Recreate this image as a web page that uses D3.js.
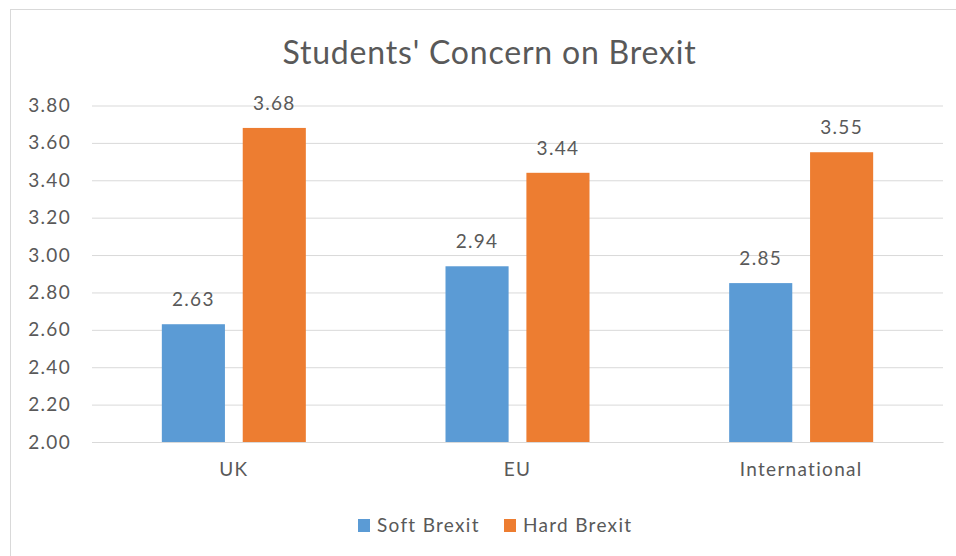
<!DOCTYPE html>
<html>
<head>
<meta charset="utf-8">
<script src="https://cdn.jsdelivr.net/npm/d3@7"></script>
<style>
  body { margin: 0; background: #fff; }
  text { font-family: Lato, "Open Sans", sans-serif; fill: #595959; }
</style>
</head>
<body>
<div id="chart"></div>
<script>
// --------------------------------------
//  Data
// --------------------------------------
const categories = ["UK", "EU", "International"];
const seriesNames = ["Soft Brexit", "Hard Brexit"];
const softBrexit = [2.63, 2.94, 2.85];
const hardBrexit = [3.68, 3.44, 3.55];
const yTicks = [2.0, 2.2, 2.4, 2.6, 2.8, 3.0, 3.2, 3.4, 3.6, 3.8];
const colors = ["#5B9BD5", "#ED7D31"];

const data = categories.map((c, i) => ({
  category: c,
  values: [
    {key: seriesNames[0], value: softBrexit[i]},
    {key: seriesNames[1], value: hardBrexit[i]}
  ]
}));

// --------------------------------------
//  Canvas
// --------------------------------------
const width = 956;
const height = 556;
const plot = {left: 92, right: 943, top: 105.5, bottom: 442};
const labelSize = 19;
const labelSpacing = "1.3px";

const svg = d3.select("#chart")
  .append("svg")
    .attr("width", width)
    .attr("height", height);

// chart area border
svg.append("rect")
    .attr("x", 10.5)
    .attr("y", 9.5)
    .attr("width", 1000)
    .attr("height", 600)
    .attr("fill", "none")
    .attr("stroke", "#d9d9d9")
    .attr("stroke-width", 1);

// --------------------------------------
//  Scales
// --------------------------------------
const x0 = d3.scaleBand()
    .domain(categories)
    .range([plot.left, plot.right]);

const groupW = 144;
const x1 = d3.scaleBand()
    .domain(seriesNames)
    .range([x0.bandwidth() / 2 - groupW / 2, x0.bandwidth() / 2 + groupW / 2])
    .paddingInner(0.22);

const y = d3.scaleLinear()
    .domain([2, 3.8])
    .range([plot.bottom, plot.top]);

const color = d3.scaleOrdinal()
    .domain(seriesNames)
    .range(colors);

// --------------------------------------
//  Gridlines and axes
// --------------------------------------
svg.append("g")
    .attr("transform", `translate(${plot.left}, 0)`)
    .call(d3.axisLeft(y)
      .tickValues(yTicks)
      .tickSize(-(plot.right - plot.left))
      .tickPadding(21)
      .tickFormat(d3.format(".2f")))
    .call(g => g.select(".domain").remove())
    .call(g => g.selectAll(".tick line").attr("stroke", "#d9d9d9").attr("stroke-width", 1))
    .call(g => g.selectAll(".tick text")
      .attr("font-size", labelSize)
      .attr("font-family", "Lato, sans-serif")
      .attr("letter-spacing", labelSpacing)
      .attr("fill", "#595959"));

svg.append("g")
    .attr("transform", `translate(0, ${plot.bottom})`)
    .call(d3.axisBottom(x0).tickSize(0).tickPadding(21))
    .call(g => g.select(".domain").attr("stroke", "#d9d9d9"))
    .call(g => g.selectAll(".tick text")
      .attr("font-size", labelSize)
      .attr("font-family", "Lato, sans-serif")
      .attr("letter-spacing", labelSpacing)
      .attr("fill", "#595959"));

// --------------------------------------
//  Bars
// --------------------------------------
const groups = svg.append("g")
  .selectAll("g")
  .data(data)
  .join("g")
    .attr("transform", d => `translate(${x0(d.category)}, 0)`);

groups.selectAll("rect")
  .data(d => d.values)
  .join("rect")
    .attr("x", d => x1(d.key))
    .attr("y", d => y(d.value))
    .attr("width", x1.bandwidth())
    .attr("height", d => y(2) - y(d.value))
    .attr("fill", d => color(d.key));

groups.selectAll(".val")
  .data(d => d.values)
  .join("text")
    .attr("class", "val")
    .attr("x", d => x1(d.key) + x1.bandwidth() / 2)
    .attr("y", d => y(d.value) - 18)
    .attr("text-anchor", "middle")
    .attr("font-size", labelSize)
    .attr("letter-spacing", labelSpacing)
    .text(d => d3.format(".2f")(d.value));

// --------------------------------------
//  Title
// --------------------------------------
svg.append("text")
    .attr("x", 489.5)
    .attr("y", 64)
    .attr("text-anchor", "middle")
    .attr("font-size", 32)
    .attr("letter-spacing", "0.8px")
    .text("Students' Concern on Brexit");

// --------------------------------------
//  Legend
// --------------------------------------
const legendX = [358, 504];
const legend = svg.append("g")
  .selectAll("g")
  .data(seriesNames)
  .join("g")
    .attr("transform", (d, i) => `translate(${legendX[i]}, 519)`);

legend.append("rect")
    .attr("width", 12)
    .attr("height", 13)
    .attr("fill", d => color(d));

legend.append("text")
    .attr("x", 19)
    .attr("y", 12.5)
    .attr("font-size", labelSize)
    .attr("letter-spacing", labelSpacing)
    .text(d => d);
</script>
</body>
</html>
